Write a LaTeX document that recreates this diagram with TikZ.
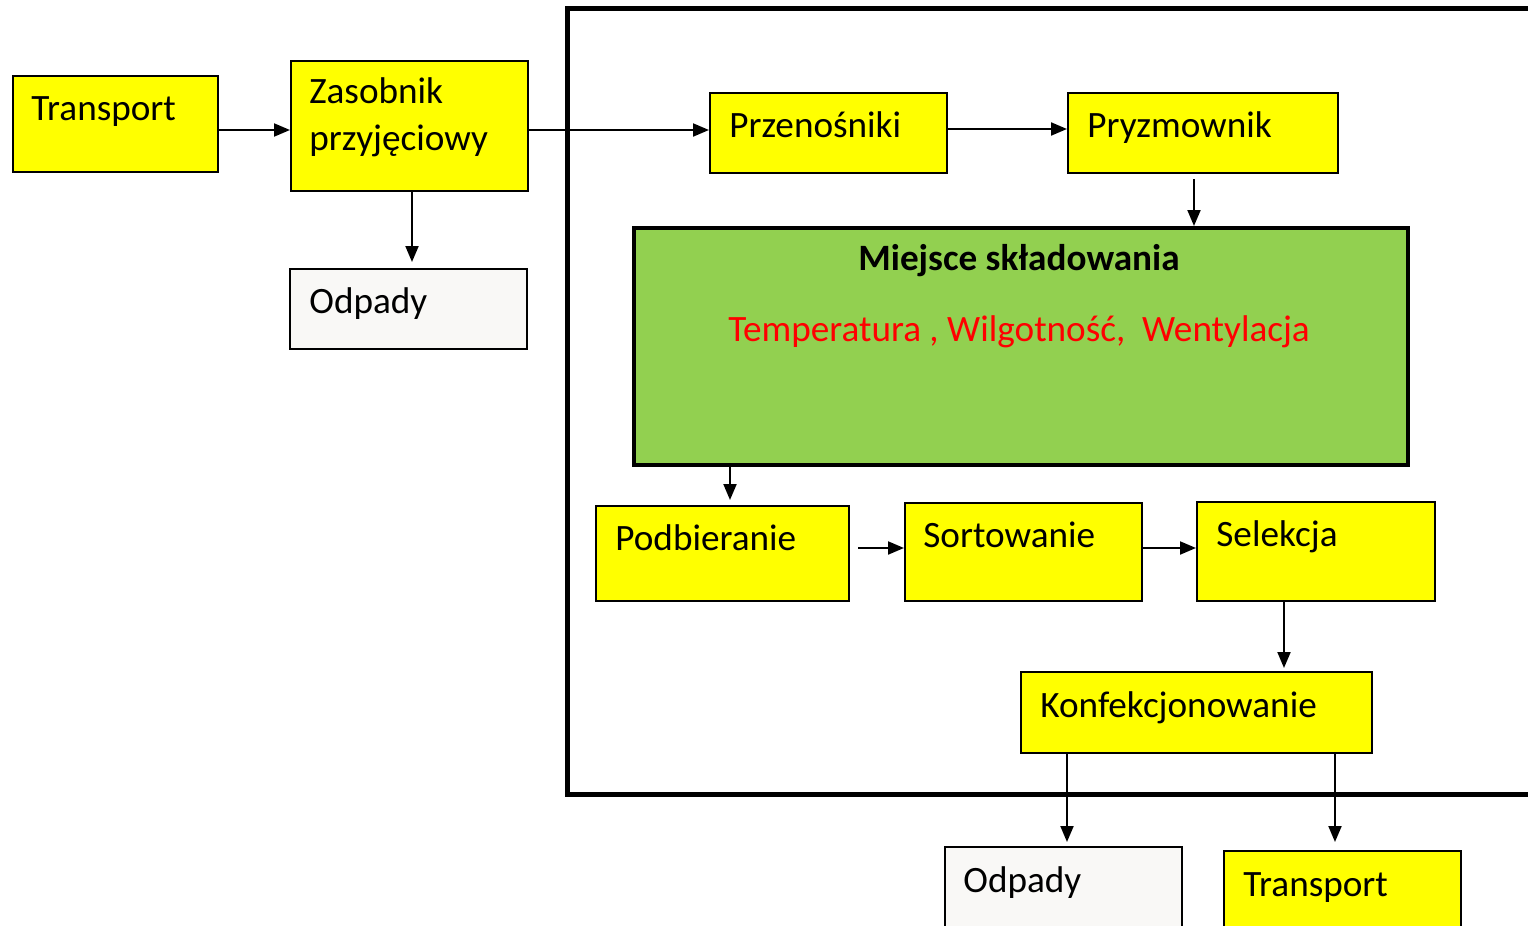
\documentclass[tikz,border=0pt]{standalone}
\usepackage{fontspec}
\setmainfont{Carlito}
\usetikzlibrary{arrows.meta}
\definecolor{ybox}{HTML}{FFFF00}
\definecolor{gbox}{HTML}{92D050}
\definecolor{wbox}{HTML}{F9F8F6}
\definecolor{redtxt}{HTML}{FF0000}
\tikzset{
  box/.style={draw=black, line width=1pt, fill=ybox, inner sep=0pt, anchor=north west},
  wbx/.style={box, fill=wbox},
  txt/.style={inner sep=0pt, anchor=base west, font=\fontsize{18.6}{22}\selectfont},
  arr/.style={line width=1pt, -{Triangle[length=8pt,width=6.5pt]}},
}
\begin{document}
\begin{tikzpicture}[x=0.5pt,y=-0.5pt]
\useasboundingbox (0,0) rectangle (1528,926);
\clip (0,0) rectangle (1528,926);
% frame
\draw[line width=2.5pt] (1540,8) -- (567,8) -- (567,794) -- (1540,794);
% boxes
\node[box, minimum width=102.5pt, minimum height=48pt] (b1) at (12,75) {};
\node[box, minimum width=118.5pt, minimum height=65pt] (b2) at (290,60) {};
\node[wbx, minimum width=118.5pt, minimum height=40pt] (b3) at (289,268) {};
\node[box, minimum width=118.5pt, minimum height=40pt] (b4) at (709,92) {};
\node[box, minimum width=135pt, minimum height=40pt] (b5) at (1067,92) {};
\node[box, fill=gbox, line width=2pt, minimum width=387pt, minimum height=118.5pt] (g) at (632,226) {};
\node[box, minimum width=126.5pt, minimum height=47.5pt] (b6) at (595,505) {};
\node[box, minimum width=118.5pt, minimum height=49pt] (b7) at (904,502) {};
\node[box, minimum width=119pt, minimum height=49.5pt] (b8) at (1196,501) {};
\node[box, minimum width=175.5pt, minimum height=40.5pt] (b9) at (1020,671) {};
\node[wbx, minimum width=118.5pt, minimum height=50pt] (b10) at (944,846) {};
\node[box, minimum width=118.5pt, minimum height=50pt] (b11) at (1223,850) {};
% texts
\node[txt] (t1) at (31,120) {Transport};
\node[txt] (t2a) at (309,104) {Zasobnik};
\node[txt] (t2b) at (309,150) {przyjęciowy};
\node[txt] (t3) at (309,313) {Odpady};
\node[txt] (t4) at (729,137) {Przenośniki};
\node[txt] (t5) at (1087,137) {Pryzmownik};
\node[txt, anchor=base, font=\fontsize{18.6}{22}\selectfont\bfseries] (tg1) at (1019,270) {Miejsce składowania};
\node[txt, anchor=base, text=redtxt] (tg2) at (1019,341) {Temperatura , Wilgotność,\ \ Wentylacja};
\node[txt] (t6) at (615,550) {Podbieranie};
\node[txt] (t7) at (923,547) {Sortowanie};
\node[txt] (t8) at (1216,546) {Selekcja};
\node[txt] (t9) at (1040,717) {Konfekcjonowanie};
\node[txt] (t10) at (963,892) {Odpady};
\node[txt] (t11) at (1243,896) {Transport};
% connectors
\draw[arr] (b1.east |- 0,130) -- (b2.west |- 0,130);
\draw[arr] (b2.east |- 0,130) -- (b4.west |- 0,130);
\draw[arr] (b2.south -| 412,0) -- ([yshift=3pt]b3.north -| 412,0);
\draw[arr] (b4.east |- 0,129) -- (b5.west |- 0,129);
\draw[arr] ([yshift=-2.5pt]b5.south -| 1194,0) -- (g.north -| 1194,0);
\draw[arr] (g.south -| 730,0) -- ([yshift=2.5pt]b6.north -| 730,0);
\draw[arr] ([xshift=4pt]b6.east |- 0,548) -- (b7.west |- 0,548);
\draw[arr] (b7.east |- 0,548) -- (b8.west |- 0,548);
\draw[arr] (b8.south -| 1284,0) -- ([yshift=1.5pt]b9.north -| 1284,0);
\draw[arr] (b9.south -| 1067,0) -- ([yshift=2pt]b10.north -| 1067,0);
\draw[arr] (b9.south -| 1335,0) -- ([yshift=4pt]b11.north -| 1335,0);
\end{tikzpicture}
\end{document}
